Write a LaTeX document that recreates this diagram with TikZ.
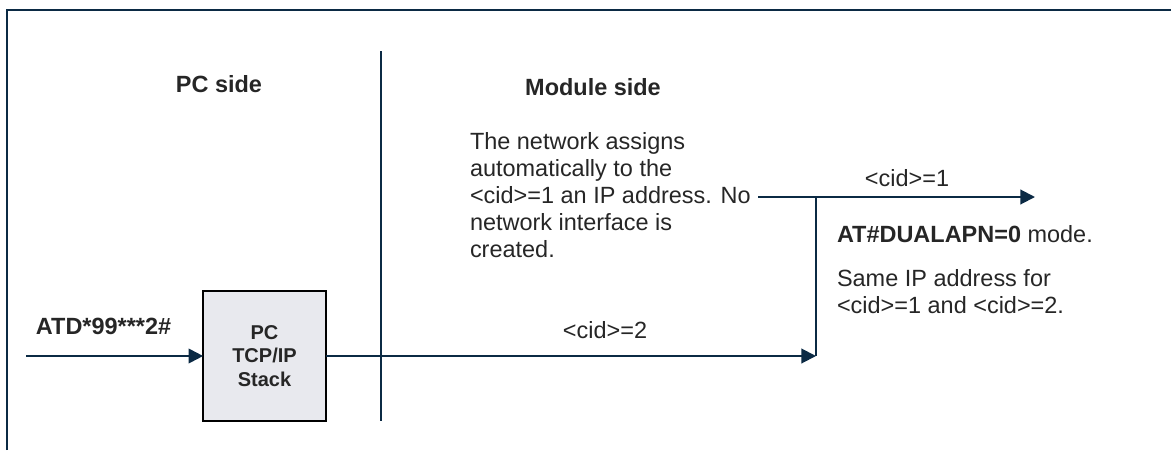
\documentclass[tikz,border=0pt]{standalone}
\usepackage{fontspec}
\setmainfont{Liberation Sans}
\usetikzlibrary{arrows.meta}
\definecolor{linec}{HTML}{0B2A44}
\definecolor{txtc}{HTML}{262626}
\definecolor{boxfill}{HTML}{E8E9EE}
\begin{document}
\begin{tikzpicture}[x=0.75pt,y=-0.75pt,
  every node/.style={text=txtc,inner sep=0pt,outer sep=0pt},
  maintext/.style={font=\fontsize{17.6pt}{20.25pt}\selectfont},
  boldtext/.style={font=\fontsize{17.6pt}{20.25pt}\selectfont\bfseries},
  stackbox/.style={draw=black,line width=1.7pt,fill=boxfill,minimum width=92pt,minimum height=97pt,align=center,font=\fontsize{15pt}{17.6pt}\selectfont\bfseries},
  conn/.style={draw=linec,line width=1.5pt},
  arr/.style={conn,-{Triangle[length=11pt,width=11pt]}},
  framec/.style={draw=linec,line width=1.5pt},
  sep/.style={draw=linec,line width=1.8pt}]
\useasboundingbox (0,0) rectangle (1171,450);
% frame
\draw[framec] (7,450) -- (7,10) -- (1171,10);
% separator
\draw[sep] (381,51) -- (381,421);
% headings
\node[boldtext,anchor=base] (pcside) at (219,92) {PC side};
\node[boldtext,anchor=base] (modside) at (593,95) {Module side};
% network text
\node[maintext,anchor=north west,align=left] (nettext) at (470,132) {The network assigns\\automatically to the\\<cid>=1 an IP address. No\\network interface is\\created.};
% labels
\node[maintext,anchor=base] (cid1) at (907,186) {<cid>=1};
\node[maintext,anchor=base] (cid2) at (605,338) {<cid>=2};
\node[maintext,anchor=base west] (dual) at (837,242) {\textbf{AT\#DUALAPN=0} mode.};
\node[maintext,anchor=north west,align=left] (same) at (837,269) {Same IP address for\\<cid>=1 and <cid>=2.};
\node[boldtext,anchor=base west] (atd) at (36,334) {ATD*99***2\#};
% stack box
\node[stackbox] (stack) at (264.5,356) {PC\\TCP/IP\\Stack};
% connectors
\coordinate (inp) at (26,356);
\coordinate (j2) at (816,356);
\coordinate (j1) at (816,197);
\coordinate (nstart) at (758,197);
\coordinate (outp) at (1035,197);
\draw[arr] (inp) -- (stack.west);
\draw[arr] (stack.east) -- (j2);
\draw[conn] (j2) -- (j1);
\draw[arr] (nstart) -- (outp);
\end{tikzpicture}
\end{document}
